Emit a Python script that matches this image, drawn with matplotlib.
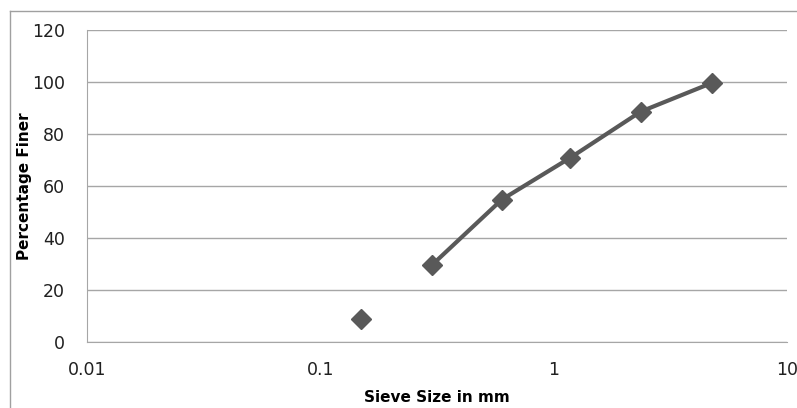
import matplotlib.pyplot as plt
from matplotlib.lines import Line2D

# sieve analysis data
sieve_mm = [0.15, 0.3, 0.6, 1.18, 2.36, 4.75]
pct_finer = [9, 29.5, 54.8, 70.9, 88.6, 99.6]
y_ticks = [0, 20, 40, 60, 80, 100, 120]
x_ticks = [0.01, 0.1, 1, 10]
x_tick_labels = ['0.01', '0.1', '1', '10']

W, H = 797, 408
fig = plt.figure(figsize=(W / 100, H / 100), dpi=100, facecolor='white')
ax = fig.add_axes([87 / W, 1 - 342 / H, 700 / W, 312 / H])

col = '#595959'
# first point stands alone, the rest are joined
ax.plot(sieve_mm[1:], pct_finer[1:], color=col, lw=3, marker='D', ms=10, zorder=3)
ax.plot(sieve_mm[:1], pct_finer[:1], color=col, lw=0, marker='D', ms=10, zorder=3)

ax.set_xscale('log')
ax.set_xlim(0.01, 10)
ax.set_ylim(0, 120)
ax.set_yticks(y_ticks)
ax.set_xticks(x_ticks)
ax.set_xticklabels(x_tick_labels)
ax.minorticks_off()
ax.grid(axis='y', color='#a6a6a6', lw=1)
ax.set_axisbelow(True)
for s in ['top', 'right']:
    ax.spines[s].set_visible(False)
ax.spines['left'].set_color('#a6a6a6')
ax.spines['bottom'].set_color('#a6a6a6')
ax.tick_params(length=0, labelsize=12.5, colors='#202020')
ax.tick_params(axis='x', pad=14)
ax.tick_params(axis='y', pad=16)

ax.set_ylabel('Percentage Finer', fontsize=11, fontweight='bold')
ax.yaxis.set_label_coords(-0.078, 0.5)
ax.set_xlabel('Sieve Size in mm', fontsize=11, fontweight='bold')
ax.xaxis.set_label_coords(0.5, -0.155)

# outer chart border
fig.add_artist(Line2D([10 / W, 10 / W], [0, 1 - 11 / H], color='#a0a0a0', lw=1))
fig.add_artist(Line2D([10 / W, 1], [1 - 11 / H, 1 - 11 / H], color='#a0a0a0', lw=1))

fig.savefig('out.png', dpi=100)
